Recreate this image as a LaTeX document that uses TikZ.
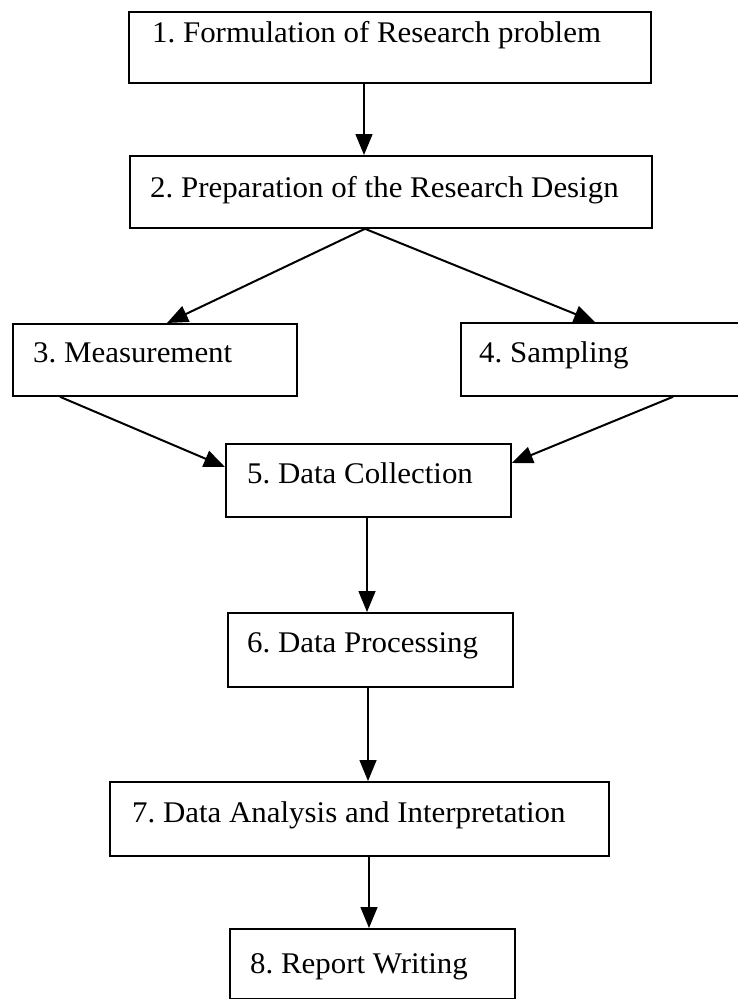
\documentclass[tikz,border=0pt]{standalone}
\usepackage{fontspec}
\setmainfont{Liberation Serif}[FakeStretch=1.03]
\usetikzlibrary{arrows.meta}
\frenchspacing
\begin{document}
\begin{tikzpicture}[x=1pt,y=-1pt,
  box/.style={draw, line width=1.8pt, inner sep=0pt, anchor=north west},
  lbl/.style={anchor=base west, inner sep=0pt, font=\fontsize{30}{36}\selectfont},
  arr/.style={line width=1.5pt, -{Triangle[length=21pt,width=17pt]}},
  darr/.style={arr, line width=2pt}]
\useasboundingbox (0,0) rectangle (738,999);
% boxes
\node[box, minimum width=522pt, minimum height=71pt] (b1) at (128,11) {};
\node[box, minimum width=522pt, minimum height=72pt] (b2) at (129,155) {};
\node[box, minimum width=284pt, minimum height=72pt] (b3) at (12,323) {};
\node[box, minimum width=280pt, minimum height=73pt] (b4) at (460,322) {};
\node[box, minimum width=285pt, minimum height=73pt] (b5) at (225,443) {};
\node[box, minimum width=285pt, minimum height=74pt] (b6) at (227,612) {};
\node[box, minimum width=499pt, minimum height=74pt] (b7) at (109,781) {};
\node[box, minimum width=285pt, minimum height=70pt] (b8) at (229,928) {};
% labels
\node[lbl] (t1) at (152,42) {1. Formulation of Research problem};
\node[lbl] (t2) at (150,197) {2. Preparation of the Research Design};
\node[lbl] (t3) at (33,362) {3. Measurement};
\node[lbl] (t4) at (479,362) {4. Sampling};
\node[lbl] (t5) at (247,483) {5. Data Collection};
\node[lbl] (t6) at (247,652) {6. Data Processing};
\node[lbl] (t7) at (132,822) {7. Data Analysis and Interpretation};
\node[lbl] (t8) at (250,973) {8. Report Writing};
% connectors
\draw[arr] ([xshift=236pt]b1.south west) -- ([xshift=235pt]b2.north west);
\draw[darr] ([xshift=236pt]b2.south west) -- ([xshift=155pt]b3.north west);
\draw[darr] ([xshift=236pt]b2.south west) -- ([xshift=135pt]b4.north west);
\draw[darr] ([xshift=48pt]b3.south west) -- ([yshift=-24pt]b5.north west);
\draw[darr] ([xshift=213pt]b4.south west) -- ([yshift=-20pt]b5.north east);
\draw[arr] ([xshift=142pt]b5.south west) -- ([xshift=140pt]b6.north west);
\draw[arr] ([xshift=141pt]b6.south west) -- ([xshift=259pt]b7.north west);
\draw[arr] ([xshift=260pt]b7.south west) -- ([xshift=140pt]b8.north west);
\end{tikzpicture}
\end{document}
